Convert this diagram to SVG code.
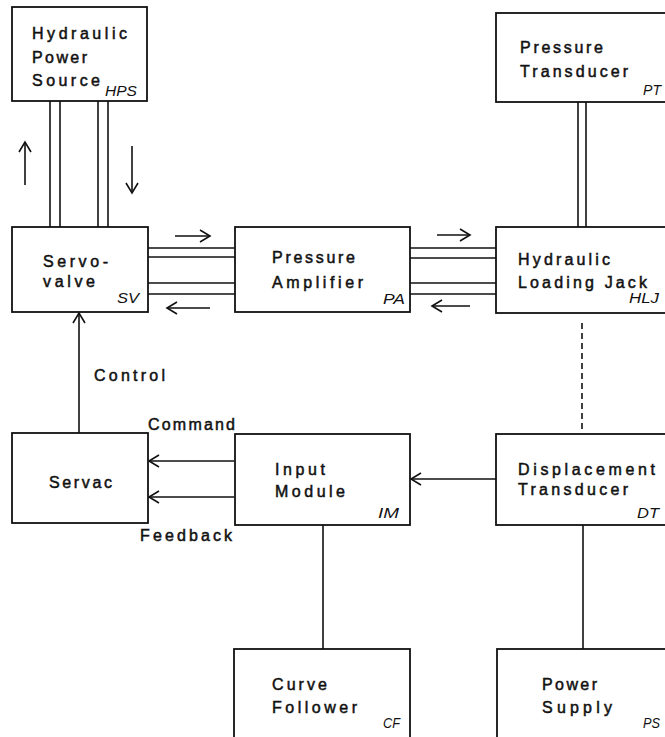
<svg xmlns="http://www.w3.org/2000/svg" width="665" height="737" viewBox="0 0 665 737">
<style>
.box{fill:#fff;stroke:#111;stroke-width:1.8}
.ln{fill:none;stroke:#111;stroke-width:1.6}
.t{font-family:"Liberation Sans",Arial,sans-serif;font-size:16px;fill:#111;stroke:#111;stroke-width:0.5}
.i{font-family:"Liberation Sans",Arial,sans-serif;font-size:15px;font-style:italic;fill:#111}
</style>
<defs>
<marker id="ah" markerUnits="userSpaceOnUse" markerWidth="16" markerHeight="16" refX="11" refY="7" orient="auto">
<path d="M1,1 L11,7 L1,13" fill="none" stroke="#111" stroke-width="1.6"/>
</marker>
</defs>
<rect width="665" height="737" fill="#fff"/>
<g id="connectors">
<line class="ln" x1="50" y1="101" x2="50" y2="227"/>
<line class="ln" x1="60" y1="101" x2="60" y2="227"/>
<line class="ln" x1="98" y1="101" x2="98" y2="227"/>
<line class="ln" x1="108" y1="101" x2="108" y2="227"/>
<line class="ln" x1="25" y1="185" x2="25" y2="142" marker-end="url(#ah)"/>
<line class="ln" x1="132" y1="146" x2="132" y2="193" marker-end="url(#ah)"/>
<line class="ln" x1="578" y1="102" x2="578" y2="227"/>
<line class="ln" x1="586" y1="102" x2="586" y2="227"/>
<line class="ln" x1="148" y1="248" x2="235" y2="248"/>
<line class="ln" x1="148" y1="257" x2="235" y2="257"/>
<line class="ln" x1="148" y1="283" x2="235" y2="283"/>
<line class="ln" x1="148" y1="294" x2="235" y2="294"/>
<line class="ln" x1="175" y1="236" x2="210" y2="236" marker-end="url(#ah)"/>
<line class="ln" x1="210" y1="308" x2="167" y2="308" marker-end="url(#ah)"/>
<line class="ln" x1="410" y1="248" x2="496" y2="248"/>
<line class="ln" x1="410" y1="258" x2="496" y2="258"/>
<line class="ln" x1="410" y1="283" x2="496" y2="283"/>
<line class="ln" x1="410" y1="294" x2="496" y2="294"/>
<line class="ln" x1="437" y1="235" x2="470" y2="235" marker-end="url(#ah)"/>
<line class="ln" x1="470" y1="306" x2="432" y2="306" marker-end="url(#ah)"/>
<line class="ln" x1="582" y1="323" x2="582" y2="433" stroke-dasharray="6,4"/>
<line class="ln" x1="79" y1="433" x2="79" y2="313" marker-end="url(#ah)"/>
<line class="ln" x1="234" y1="461" x2="149" y2="461" marker-end="url(#ah)"/>
<line class="ln" x1="234" y1="497" x2="149" y2="497" marker-end="url(#ah)"/>
<line class="ln" x1="496" y1="479" x2="411" y2="479" marker-end="url(#ah)"/>
<line class="ln" x1="323" y1="525" x2="323" y2="649"/>
<line class="ln" x1="583" y1="525" x2="583" y2="649"/>
<text class="t" x="94" y="381" textLength="71" lengthAdjust="spacing">Control</text>
<text class="t" x="148" y="430" textLength="87" lengthAdjust="spacing">Command</text>
<text class="t" x="140" y="541" textLength="92" lengthAdjust="spacing">Feedback</text>
</g>
<g id="HPS">
<rect class="box" x="12" y="7" width="135" height="94"/>
<text class="t" x="32" y="39" textLength="95" lengthAdjust="spacing">Hydraulic</text>
<text class="t" x="32" y="63" textLength="55" lengthAdjust="spacing">Power</text>
<text class="t" x="32" y="86" textLength="68" lengthAdjust="spacing">Source</text>
<text class="i" x="105" y="96" textLength="32" lengthAdjust="spacingAndGlyphs">HPS</text>
</g>
<g id="PT">
<rect class="box" x="496" y="13" width="190" height="89"/>
<text class="t" x="520" y="53" textLength="83" lengthAdjust="spacing">Pressure</text>
<text class="t" x="520" y="77" textLength="108" lengthAdjust="spacing">Transducer</text>
<text class="i" x="643" y="95" textLength="18" lengthAdjust="spacingAndGlyphs">PT</text>
</g>
<g id="SV">
<rect class="box" x="12" y="227" width="136" height="85"/>
<text class="t" x="43" y="267" textLength="65" lengthAdjust="spacing">Servo-</text>
<text class="t" x="43" y="287" textLength="52" lengthAdjust="spacing">valve</text>
<text class="i" x="117" y="303" textLength="22" lengthAdjust="spacingAndGlyphs">SV</text>
</g>
<g id="PA">
<rect class="box" x="235" y="227" width="175" height="85"/>
<text class="t" x="272" y="263" textLength="83" lengthAdjust="spacing">Pressure</text>
<text class="t" x="272" y="288" textLength="91" lengthAdjust="spacing">Amplifier</text>
<text class="i" x="383" y="304" textLength="22" lengthAdjust="spacingAndGlyphs">PA</text>
</g>
<g id="HLJ">
<rect class="box" x="496" y="227" width="190" height="86"/>
<text class="t" x="518" y="265" textLength="92" lengthAdjust="spacing">Hydraulic</text>
<text class="t" x="518" y="288" textLength="129" lengthAdjust="spacing">Loading Jack</text>
<text class="i" x="629" y="303" textLength="30" lengthAdjust="spacingAndGlyphs">HLJ</text>
</g>
<g id="Servac">
<rect class="box" x="12" y="433" width="136" height="90"/>
<text class="t" x="49" y="488" textLength="63" lengthAdjust="spacing">Servac</text>
</g>
<g id="IM">
<rect class="box" x="235" y="434" width="175" height="91"/>
<text class="t" x="275" y="475" textLength="50" lengthAdjust="spacing">Input</text>
<text class="t" x="275" y="497" textLength="70" lengthAdjust="spacing">Module</text>
<text class="i" x="378" y="518" textLength="21" lengthAdjust="spacingAndGlyphs">IM</text>
</g>
<g id="DT">
<rect class="box" x="496" y="434" width="190" height="91"/>
<text class="t" x="518" y="475" textLength="137" lengthAdjust="spacing">Displacement</text>
<text class="t" x="518" y="495" textLength="110" lengthAdjust="spacing">Transducer</text>
<text class="i" x="637" y="518" textLength="22" lengthAdjust="spacingAndGlyphs">DT</text>
</g>
<g id="CF">
<rect class="box" x="234" y="649" width="176" height="100"/>
<text class="t" x="272" y="690" textLength="55" lengthAdjust="spacing">Curve</text>
<text class="t" x="272" y="713" textLength="85" lengthAdjust="spacing">Follower</text>
<text class="i" x="383" y="728" textLength="17" lengthAdjust="spacingAndGlyphs">CF</text>
</g>
<g id="PS">
<rect class="box" x="497" y="649" width="190" height="100"/>
<text class="t" x="542" y="690" textLength="55" lengthAdjust="spacing">Power</text>
<text class="t" x="542" y="713" textLength="70" lengthAdjust="spacing">Supply</text>
<text class="i" x="643" y="728" textLength="17" lengthAdjust="spacingAndGlyphs">PS</text>
</g>
</svg>
